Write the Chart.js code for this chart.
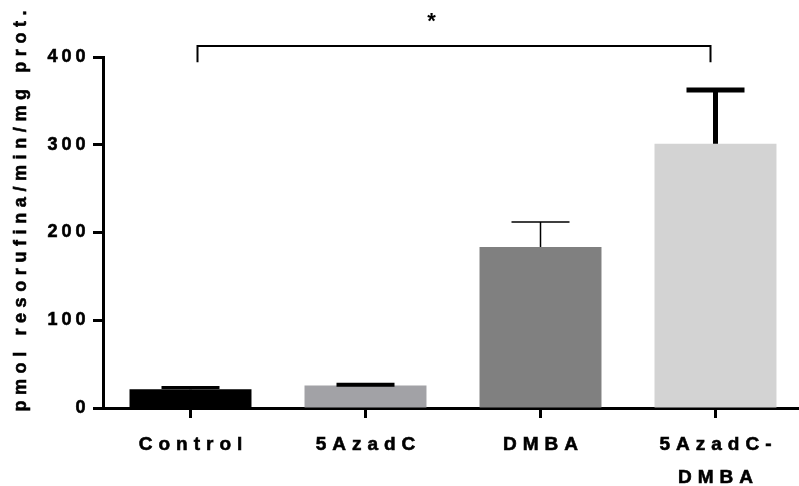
<!DOCTYPE html>
<html>
<head>
<meta charset="utf-8">
<script src="https://cdn.jsdelivr.net/npm/chart.js@4.4.1/dist/chart.umd.min.js"></script>
<style>
  html, body { margin: 0; padding: 0; background: #fff; overflow: hidden; }
  #wrap { width: 803px; height: 486px; }
</style>
</head>
<body>
<div id="wrap"><canvas id="chart"></canvas></div>
<script>
// data
const groups = ['Control', '5AzadC', 'DMBA', ['5AzadC-', 'DMBA']];
const means = [21.5, 25.5, 183.5, 301];
const sem = [2, 1, 28.5, 61.5];
const yTicks = [0, 100, 200, 300, 400];

const barColors = ['#000000', '#a2a2a6', '#808080', '#d3d3d3'];
const errWidths = [3, 4, 1.5, 5];
const FONT = '"Liberation Sans", Arial, sans-serif';

// draw a string char by char with extra gap; align 'center' or 'right'
function spaced(ctx, text, x, y, gap, align) {
  const chars = [...text];
  const widths = chars.map(c => ctx.measureText(c).width);
  const total = widths.reduce((a, b) => a + b, 0) + gap * (chars.length - 1);
  let cx = align === 'right' ? x - total : x - total / 2;
  ctx.textAlign = 'left';
  chars.forEach((c, i) => {
    ctx.fillText(c, cx, y);
    ctx.strokeText(c, cx, y);
    cx += widths[i] + gap;
  });
}

// error bars, axis texts, significance bracket
const extras = {
  id: 'extras',
  afterDraw(chart) {
    const ctx = chart.ctx;
    const x = chart.scales.x;
    const y = chart.scales.y;
    const bars = chart.getDatasetMeta(0).data;
    ctx.save();
    ctx.strokeStyle = '#000';
    ctx.fillStyle = '#000';
    bars.forEach((bar, i) => {
      const top = y.getPixelForValue(means[i] + sem[i]);
      const base = y.getPixelForValue(means[i]);
      ctx.lineWidth = errWidths[i];
      ctx.beginPath();
      ctx.moveTo(bar.x, base);
      ctx.lineTo(bar.x, top);
      ctx.moveTo(bar.x - 29, top);
      ctx.lineTo(bar.x + 29, top);
      ctx.stroke();
    });

    // bracket Control vs 5AzadC-DMBA
    const x0 = bars[0].x + 7, x1 = bars[3].x - 5;
    const yb = y.getPixelForValue(412.5), ye = y.getPixelForValue(394);
    ctx.lineWidth = 2;
    ctx.beginPath();
    ctx.moveTo(x0, ye);
    ctx.lineTo(x0, yb);
    ctx.lineTo(x1, yb);
    ctx.lineTo(x1, ye);
    ctx.stroke();

    ctx.font = 'bold 22px ' + FONT;
    ctx.textAlign = 'center';
    ctx.textBaseline = 'middle';
    ctx.fillText('*', x0 + (x1 - x0) * 0.456, y.getPixelForValue(440));

    // text gets a thin outline so it reads as heavy as the original
    ctx.lineWidth = 0.6;

    // y tick labels
    ctx.font = 'bold 18px ' + FONT;
    yTicks.forEach(v => spaced(ctx, String(v), 85.5, y.getPixelForValue(v), 4, 'right'));

    // category labels
    ctx.font = 'bold 19px ' + FONT;
    groups.forEach((g, i) => {
      const lines = Array.isArray(g) ? g : [g];
      lines.forEach((l, j) => spaced(ctx, l, x.getPixelForValue(i), 445 + j * 33, 6, 'center'));
    });

    // y axis title
    ctx.font = 'bold 18px ' + FONT;
    ctx.textBaseline = 'alphabetic';
    ctx.translate(26, 211);
    ctx.rotate(-Math.PI / 2);
    spaced(ctx, 'pmol resorufina/min/mg prot.', 0, 0, 5.6, 'center');
    ctx.restore();
  }
};

new Chart(document.getElementById('chart'), {
  type: 'bar',
  data: {
    labels: groups,
    datasets: [{
      data: means,
      backgroundColor: barColors,
      borderWidth: 0,
      categoryPercentage: 1,
      barPercentage: 0.697
    }]
  },
  options: {
    responsive: true,
    maintainAspectRatio: false,
    animation: false,
    layout: { padding: { top: 57, left: 0, right: 0, bottom: 0 } },
    plugins: { legend: { display: false }, tooltip: { enabled: false } },
    scales: {
      x: {
        afterFit: (s) => { s.height = 78; },
        border: { display: true, width: 3, color: '#000' },
        grid: { offset: false, drawOnChartArea: false, drawTicks: true, tickLength: 10, tickWidth: 3, tickColor: '#000' },
        ticks: { display: false }
      },
      y: {
        min: 0,
        max: 400,
        afterFit: (s) => { s.width = 103; },
        afterBuildTicks: (s) => { s.ticks = yTicks.map(v => ({ value: v })); },
        border: { display: true, width: 3, color: '#000' },
        grid: { drawOnChartArea: false, drawTicks: true, tickLength: 10, tickWidth: 3, tickColor: '#000' },
        ticks: { display: false }
      }
    }
  },
  plugins: [extras]
});
</script>
</body>
</html>
